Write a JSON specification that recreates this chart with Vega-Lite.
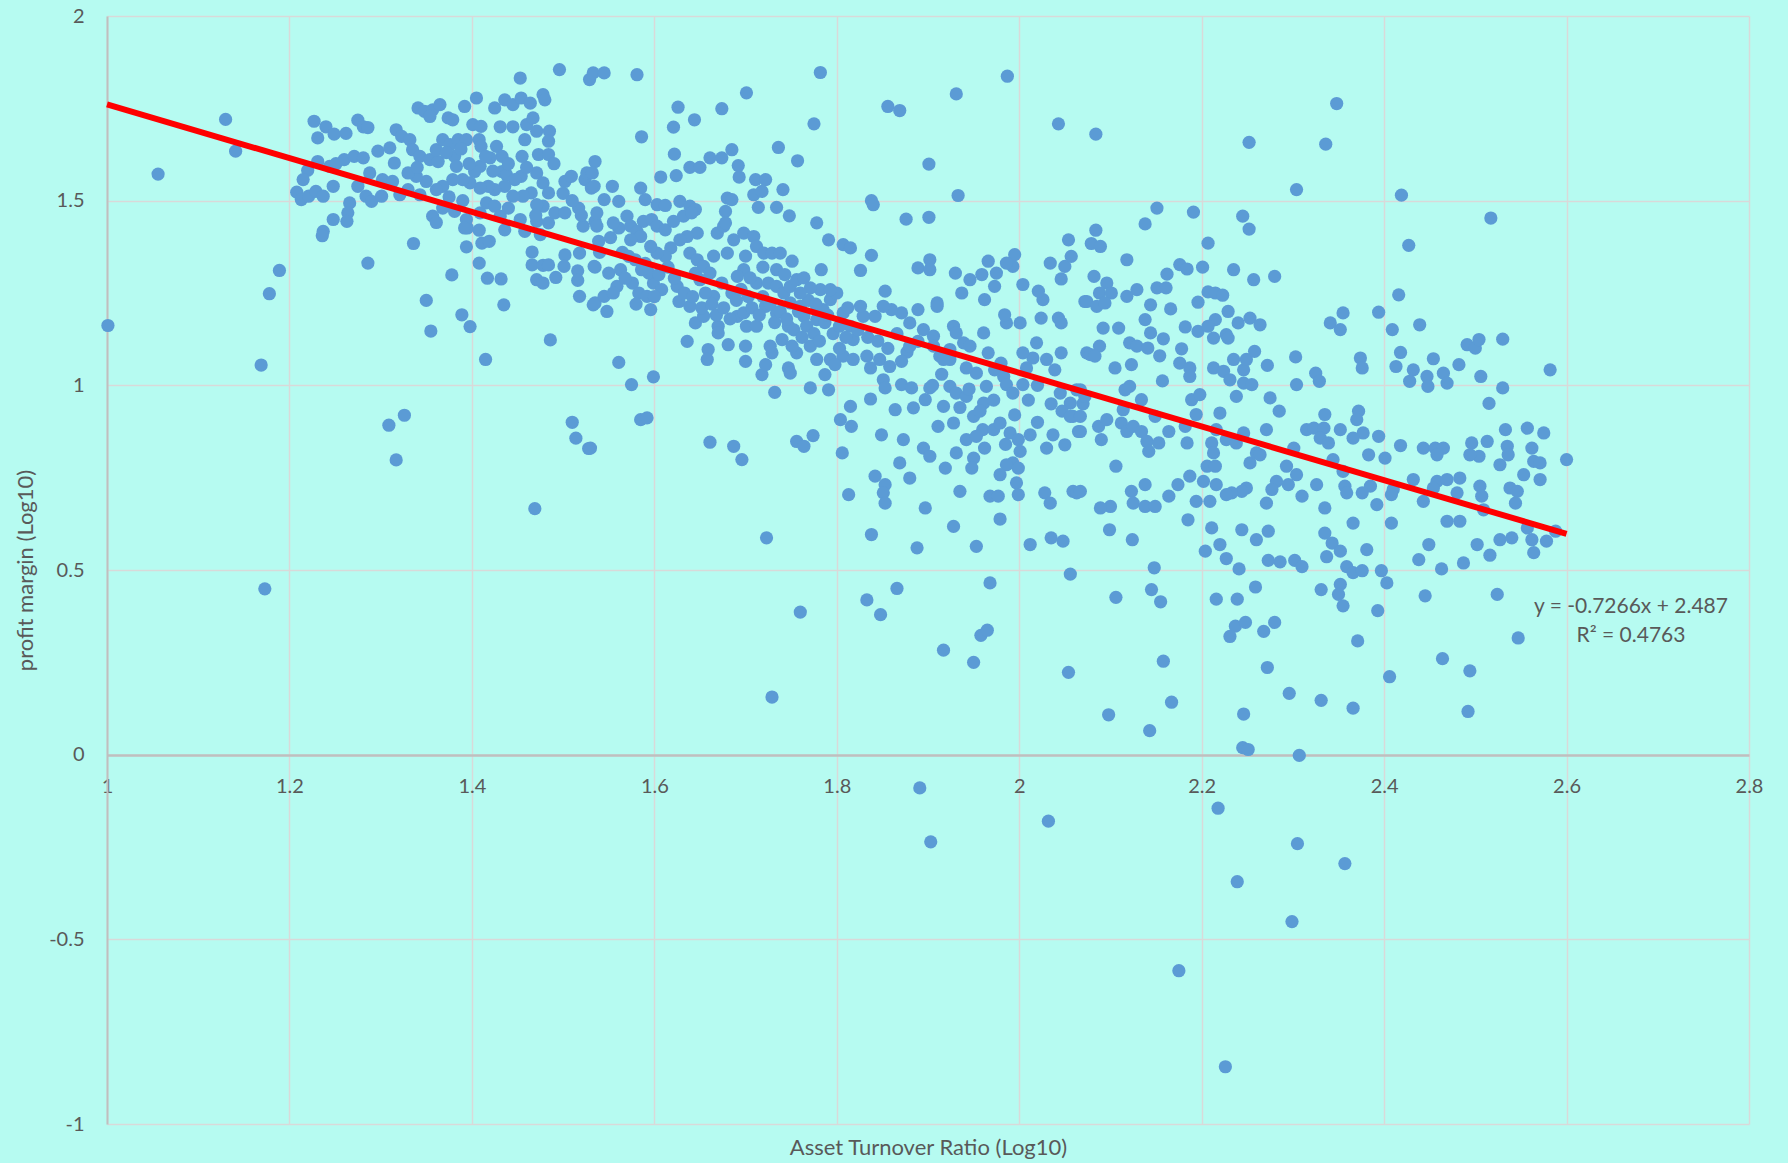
{
"$schema": "https://vega.github.io/schema/vega-lite/v6.json",
"width": 1642, "height": 1108,
"autosize": {"type": "none"},
"padding": {"left": 107, "top": 16, "right": 39, "bottom": 39},
"background": "#B6FBF1",
"config": {"view": {"stroke": null}, "font": "Lato"},
"datasets": {
"trend": [{"x": 1, "y": 1.7604}, {"x": 2.6, "y": 0.59784}],
"eq": [{"label": "y = -0.7266x + 2.487", "x": 2.6706, "y": 0.384}, {"label": "R² = 0.4763", "x": 2.6706, "y": 0.305}],
"points": [
{"x":1.001,"y":1.162},{"x":1.056,"y":1.572},{"x":1.130,"y":1.72},{"x":1.141,"y":1.634},{"x":1.189,"y":1.311},{"x":1.178,"y":1.248},{"x":1.169,"y":1.055},{"x":1.173,"y":0.449},{"x":1.309,"y":0.892},{"x":1.326,"y":0.919},{"x":1.317,"y":0.798},{"x":1.469,"y":0.666},{"x":1.510,"y":0.90},{"x":1.514,"y":0.857},{"x":1.528,"y":0.829},{"x":1.286,"y":1.331},{"x":1.336,"y":1.384},{"x":1.378,"y":1.299},{"x":1.350,"y":1.23},{"x":1.355,"y":1.147},{"x":1.389,"y":1.191},{"x":1.398,"y":1.159},{"x":1.415,"y":1.07},{"x":1.435,"y":1.218},{"x":1.486,"y":1.123},{"x":1.394,"y":1.375},{"x":1.417,"y":1.29},{"x":1.432,"y":1.288},{"x":1.408,"y":1.331},{"x":1.411,"y":1.385},{"x":1.419,"y":1.39},{"x":1.395,"y":1.426},{"x":1.408,"y":1.42},{"x":1.466,"y":1.361},{"x":1.466,"y":1.326},{"x":1.478,"y":1.325},{"x":1.484,"y":1.326},{"x":1.471,"y":1.286},{"x":1.478,"y":1.277},{"x":1.492,"y":1.292},{"x":1.502,"y":1.353},{"x":1.501,"y":1.322},{"x":1.516,"y":1.31},{"x":1.516,"y":1.284},{"x":1.518,"y":1.241},{"x":1.533,"y":1.218},{"x":1.518,"y":1.358},{"x":1.535,"y":1.32},
{"x":1.227,"y":1.715},{"x":1.240,"y":1.70},{"x":1.249,"y":1.68},{"x":1.262,"y":1.682},{"x":1.275,"y":1.718},{"x":1.281,"y":1.70},{"x":1.286,"y":1.698},{"x":1.231,"y":1.67},{"x":1.231,"y":1.606},{"x":1.220,"y":1.582},{"x":1.215,"y":1.557},{"x":1.208,"y":1.523},{"x":1.213,"y":1.503},{"x":1.221,"y":1.512},{"x":1.229,"y":1.525},{"x":1.237,"y":1.512},{"x":1.248,"y":1.539},{"x":1.244,"y":1.593},{"x":1.251,"y":1.60},{"x":1.260,"y":1.611},{"x":1.271,"y":1.62},{"x":1.281,"y":1.616},{"x":1.288,"y":1.575},{"x":1.275,"y":1.539},{"x":1.284,"y":1.512},{"x":1.290,"y":1.498},{"x":1.301,"y":1.512},{"x":1.302,"y":1.557},{"x":1.313,"y":1.552},{"x":1.321,"y":1.516},{"x":1.266,"y":1.494},{"x":1.264,"y":1.467},{"x":1.248,"y":1.449},{"x":1.263,"y":1.444},{"x":1.237,"y":1.417},{"x":1.236,"y":1.405},
{"x":1.297,"y":1.634},{"x":1.310,"y":1.643},{"x":1.317,"y":1.692},{"x":1.323,"y":1.674},{"x":1.315,"y":1.602},{"x":1.332,"y":1.665},{"x":1.341,"y":1.751},{"x":1.348,"y":1.742},{"x":1.357,"y":1.746},{"x":1.365,"y":1.76},{"x":1.374,"y":1.724},{"x":1.379,"y":1.719},{"x":1.354,"y":1.728},{"x":1.335,"y":1.638},{"x":1.343,"y":1.62},{"x":1.354,"y":1.611},{"x":1.363,"y":1.606},{"x":1.361,"y":1.638},{"x":1.368,"y":1.665},{"x":1.376,"y":1.652},{"x":1.385,"y":1.665},{"x":1.394,"y":1.665},{"x":1.381,"y":1.62},{"x":1.383,"y":1.593},{"x":1.392,"y":1.755},{"x":1.405,"y":1.778},{"x":1.401,"y":1.706},{"x":1.410,"y":1.701},{"x":1.408,"y":1.665},{"x":1.410,"y":1.647},{"x":1.425,"y":1.751},{"x":1.436,"y":1.773},{"x":1.445,"y":1.76},{"x":1.453,"y":1.832},{"x":1.454,"y":1.778},{"x":1.464,"y":1.764},{"x":1.478,"y":1.787},{"x":1.480,"y":1.773},{"x":1.496,"y":1.855},{"x":1.529,"y":1.828},{"x":1.533,"y":1.846},{"x":1.431,"y":1.70},{"x":1.445,"y":1.70},{"x":1.460,"y":1.706},{"x":1.467,"y":1.724},{"x":1.471,"y":1.688},{"x":1.458,"y":1.665},{"x":1.485,"y":1.688},{"x":1.484,"y":1.661},{"x":1.473,"y":1.625},{"x":1.484,"y":1.625},{"x":1.427,"y":1.647},{"x":1.433,"y":1.62},{"x":1.420,"y":1.616},{"x":1.409,"y":1.593},{"x":1.403,"y":1.579},{"x":1.433,"y":1.579},{"x":1.438,"y":1.57},{"x":1.454,"y":1.566},{"x":1.447,"y":1.557},{"x":1.471,"y":1.575},{"x":1.478,"y":1.548},{"x":1.484,"y":1.521},{"x":1.465,"y":1.521},{"x":1.456,"y":1.512},{"x":1.445,"y":1.512},{"x":1.436,"y":1.539},{"x":1.425,"y":1.53},{"x":1.418,"y":1.539},{"x":1.409,"y":1.534},{"x":1.398,"y":1.548},{"x":1.390,"y":1.557},{"x":1.379,"y":1.557},{"x":1.368,"y":1.539},{"x":1.361,"y":1.53},{"x":1.350,"y":1.552},{"x":1.339,"y":1.566},{"x":1.330,"y":1.575},{"x":1.343,"y":1.516},{"x":1.368,"y":1.48},{"x":1.381,"y":1.471},{"x":1.394,"y":1.449},{"x":1.392,"y":1.426},{"x":1.409,"y":1.467},{"x":1.416,"y":1.494},{"x":1.425,"y":1.485},{"x":1.431,"y":1.458},{"x":1.436,"y":1.421},{"x":1.453,"y":1.449},{"x":1.458,"y":1.417},{"x":1.471,"y":1.444},{"x":1.475,"y":1.408},{"x":1.484,"y":1.44},{"x":1.478,"y":1.485},{"x":1.471,"y":1.489},{"x":1.491,"y":1.467},{"x":1.502,"y":1.467},{"x":1.517,"y":1.48},{"x":1.522,"y":1.431},{"x":1.535,"y":1.444},{"x":1.502,"y":1.552},{"x":1.509,"y":1.566},{"x":1.524,"y":1.557},{"x":1.526,"y":1.575},{"x":1.531,"y":1.534},{"x":1.535,"y":1.606},{"x":1.357,"y":1.458},{"x":1.361,"y":1.441},
{"x":1.372,"y":1.63},{"x":1.388,"y":1.64},{"x":1.397,"y":1.60},{"x":1.415,"y":1.62},{"x":1.423,"y":1.58},{"x":1.44,"y":1.60},{"x":1.46,"y":1.59},{"x":1.455,"y":1.62},{"x":1.49,"y":1.60},{"x":1.50,"y":1.52},{"x":1.51,"y":1.50},{"x":1.52,"y":1.46},{"x":1.34,"y":1.59},{"x":1.33,"y":1.53},{"x":1.375,"y":1.51},{"x":1.39,"y":1.50},{"x":1.44,"y":1.48},{"x":1.47,"y":1.46},
{"x":1.545,"y":1.846},{"x":1.581,"y":1.841},{"x":1.626,"y":1.753},{"x":1.621,"y":1.699},{"x":1.644,"y":1.719},{"x":1.674,"y":1.749},{"x":1.701,"y":1.792},{"x":1.782,"y":1.847},{"x":1.586,"y":1.673},{"x":1.622,"y":1.626},{"x":1.624,"y":1.568},{"x":1.607,"y":1.564},{"x":1.639,"y":1.59},{"x":1.650,"y":1.59},{"x":1.661,"y":1.616},{"x":1.674,"y":1.616},{"x":1.685,"y":1.638},{"x":1.692,"y":1.595},{"x":1.693,"y":1.564},{"x":1.711,"y":1.557},{"x":1.722,"y":1.557},{"x":1.709,"y":1.516},{"x":1.718,"y":1.525},{"x":1.714,"y":1.482},{"x":1.736,"y":1.644},{"x":1.757,"y":1.608},{"x":1.775,"y":1.708},{"x":1.741,"y":1.53},{"x":1.734,"y":1.482},{"x":1.748,"y":1.459},{"x":1.680,"y":1.507},{"x":1.685,"y":1.503},{"x":1.678,"y":1.471},{"x":1.585,"y":1.534},{"x":1.590,"y":1.503},{"x":1.603,"y":1.489},{"x":1.612,"y":1.487},{"x":1.628,"y":1.498},{"x":1.639,"y":1.485},{"x":1.645,"y":1.476},{"x":1.554,"y":1.539},{"x":1.545,"y":1.503},{"x":1.561,"y":1.498},{"x":1.532,"y":1.575},{"x":1.534,"y":1.539},{"x":1.856,"y":1.755},{"x":1.869,"y":1.744},{"x":1.931,"y":1.789},{"x":1.987,"y":1.837},{"x":1.901,"y":1.599},{"x":2.043,"y":1.708},{"x":1.933,"y":1.514},{"x":1.838,"y":1.5},{"x":1.840,"y":1.489},{"x":1.876,"y":1.45},{"x":1.901,"y":1.455},{"x":1.778,"y":1.44},{"x":1.791,"y":1.394},{"x":1.807,"y":1.381},{"x":1.815,"y":1.372},{"x":1.838,"y":1.352},{"x":1.826,"y":1.311},{"x":1.783,"y":1.313},
{"x":1.537,"y":1.467},{"x":1.537,"y":1.431},{"x":1.539,"y":1.39},{"x":1.534,"y":1.322},{"x":1.535,"y":1.223},{"x":1.548,"y":1.2},{"x":1.550,"y":1.304},{"x":1.545,"y":1.241},{"x":1.561,"y":1.426},{"x":1.570,"y":1.458},{"x":1.574,"y":1.431},{"x":1.581,"y":1.417},{"x":1.588,"y":1.444},{"x":1.597,"y":1.449},{"x":1.603,"y":1.431},{"x":1.612,"y":1.421},{"x":1.621,"y":1.444},{"x":1.632,"y":1.458},{"x":1.641,"y":1.467},{"x":1.647,"y":1.412},{"x":1.636,"y":1.403},{"x":1.628,"y":1.394},{"x":1.618,"y":1.372},{"x":1.612,"y":1.349},{"x":1.603,"y":1.358},{"x":1.596,"y":1.376},{"x":1.585,"y":1.403},{"x":1.574,"y":1.394},{"x":1.572,"y":1.349},{"x":1.579,"y":1.34},{"x":1.563,"y":1.313},{"x":1.559,"y":1.268},{"x":1.555,"y":1.25},{"x":1.576,"y":1.277},{"x":1.583,"y":1.25},{"x":1.592,"y":1.241},{"x":1.596,"y":1.205},{"x":1.599,"y":1.277},{"x":1.608,"y":1.259},{"x":1.594,"y":1.304},{"x":1.586,"y":1.313},{"x":1.625,"y":1.268},{"x":1.627,"y":1.227},{"x":1.639,"y":1.214},{"x":1.645,"y":1.169},{"x":1.636,"y":1.119},{"x":1.654,"y":1.187},{"x":1.659,"y":1.097},{"x":1.670,"y":1.16},{"x":1.658,"y":1.07},{"x":1.670,"y":1.142},{"x":1.681,"y":1.11},{"x":1.691,"y":1.187},{"x":1.698,"y":1.196},{"x":1.701,"y":1.16},{"x":1.712,"y":1.16},{"x":1.700,"y":1.106},{"x":1.700,"y":1.065},{"x":1.722,"y":1.214},{"x":1.718,"y":1.029},{"x":1.722,"y":1.056},{"x":1.729,"y":1.088},{"x":1.732,"y":0.981},{"x":1.747,"y":1.047},{"x":1.749,"y":1.033},{"x":1.740,"y":1.124},{"x":1.747,"y":1.16},{"x":1.734,"y":1.196},{"x":1.749,"y":1.223},{"x":1.760,"y":1.214},{"x":1.764,"y":1.187},{"x":1.767,"y":1.16},{"x":1.778,"y":1.178},{"x":1.785,"y":1.205},{"x":1.793,"y":1.232},{"x":1.800,"y":1.25},{"x":1.807,"y":1.196},{"x":1.815,"y":1.16},{"x":1.818,"y":1.124},{"x":1.771,"y":1.106},{"x":1.778,"y":1.07},{"x":1.793,"y":1.07},{"x":1.807,"y":1.079},{"x":1.818,"y":1.07},{"x":1.787,"y":1.029},{"x":1.791,"y":0.988},{"x":1.798,"y":1.056},{"x":1.771,"y":0.993},{"x":1.756,"y":1.088},{"x":1.751,"y":1.106},{"x":1.727,"y":1.106},{"x":1.712,"y":1.277},{"x":1.725,"y":1.277},{"x":1.734,"y":1.268},{"x":1.742,"y":1.25},{"x":1.749,"y":1.268},{"x":1.756,"y":1.286},{"x":1.764,"y":1.291},{"x":1.782,"y":1.259},{"x":1.793,"y":1.259},{"x":1.771,"y":1.264},{"x":1.685,"y":1.25},{"x":1.674,"y":1.277},{"x":1.665,"y":1.241},{"x":1.656,"y":1.25},{"x":1.650,"y":1.286},{"x":1.645,"y":1.304},{"x":1.639,"y":1.358},{"x":1.647,"y":1.34},{"x":1.654,"y":1.322},{"x":1.661,"y":1.304},{"x":1.680,"y":1.358},{"x":1.687,"y":1.394},{"x":1.698,"y":1.412},{"x":1.709,"y":1.403},{"x":1.712,"y":1.376},{"x":1.720,"y":1.358},{"x":1.729,"y":1.358},{"x":1.738,"y":1.358},{"x":1.751,"y":1.336},{"x":1.734,"y":1.313},{"x":1.698,"y":1.313},{"x":1.705,"y":1.291},{"x":1.691,"y":1.295},{"x":1.669,"y":1.412},{"x":1.676,"y":1.431},{"x":1.678,"y":1.44},
{"x":1.605,"y":1.30},{"x":1.615,"y":1.32},{"x":1.622,"y":1.29},{"x":1.633,"y":1.25},{"x":1.642,"y":1.24},{"x":1.652,"y":1.21},{"x":1.663,"y":1.22},{"x":1.668,"y":1.19},{"x":1.676,"y":1.21},{"x":1.683,"y":1.18},{"x":1.690,"y":1.23},{"x":1.695,"y":1.26},{"x":1.703,"y":1.24},{"x":1.707,"y":1.21},{"x":1.715,"y":1.19},{"x":1.719,"y":1.24},{"x":1.727,"y":1.22},{"x":1.732,"y":1.17},{"x":1.738,"y":1.20},{"x":1.745,"y":1.18},{"x":1.753,"y":1.15},{"x":1.758,"y":1.20},{"x":1.762,"y":1.13},{"x":1.769,"y":1.23},{"x":1.775,"y":1.14},{"x":1.781,"y":1.12},{"x":1.787,"y":1.17},{"x":1.796,"y":1.14},{"x":1.803,"y":1.10},{"x":1.810,"y":1.13},{"x":1.665,"y":1.35},{"x":1.700,"y":1.35},{"x":1.719,"y":1.32},{"x":1.743,"y":1.30},{"x":1.760,"y":1.25},{"x":1.777,"y":1.22},{"x":1.790,"y":1.19},{"x":1.803,"y":1.16},{"x":1.812,"y":1.21},{"x":1.823,"y":1.15},{"x":1.834,"y":1.13},{"x":1.845,"y":1.12},{"x":1.856,"y":1.10},{"x":1.866,"y":1.14},{"x":1.877,"y":1.09},
{"x":1.54,"y":1.36},{"x":1.552,"y":1.40},{"x":1.565,"y":1.36},{"x":1.568,"y":1.29},{"x":1.58,"y":1.22},{"x":1.59,"y":1.33},{"x":1.60,"y":1.24},{"x":1.555,"y":1.44},
{"x":1.561,"y":1.062},{"x":1.575,"y":1.002},{"x":1.599,"y":1.023},{"x":1.585,"y":0.907},{"x":1.592,"y":0.912},{"x":1.530,"y":0.830},{"x":1.661,"y":0.846},{"x":1.687,"y":0.835},{"x":1.696,"y":0.799},{"x":1.723,"y":0.587},{"x":1.756,"y":0.848},{"x":1.764,"y":0.835},{"x":1.774,"y":0.864},{"x":1.806,"y":0.817},
{"x":1.815,"y":0.943},{"x":1.804,"y":0.907},{"x":1.816,"y":0.889},{"x":1.837,"y":0.963},{"x":1.851,"y":1.015},{"x":1.853,"y":0.993},{"x":1.864,"y":0.934},{"x":1.871,"y":1.002},{"x":1.882,"y":0.993},{"x":1.884,"y":0.939},{"x":1.897,"y":0.961},{"x":1.902,"y":0.993},{"x":1.911,"y":0.889},{"x":1.917,"y":0.943},{"x":1.924,"y":0.997},{"x":1.928,"y":0.898},{"x":1.931,"y":0.979},{"x":1.942,"y":0.97},{"x":1.950,"y":0.916},{"x":1.961,"y":0.952},{"x":1.964,"y":0.997},{"x":1.953,"y":1.033},{"x":1.942,"y":1.047},{"x":1.939,"y":1.115},{"x":1.928,"y":1.16},{"x":1.924,"y":1.07},{"x":1.913,"y":1.079},{"x":1.906,"y":1.133},{"x":1.895,"y":1.151},{"x":1.889,"y":1.205},{"x":1.880,"y":1.169},{"x":1.871,"y":1.196},{"x":1.860,"y":1.205},{"x":1.851,"y":1.214},{"x":1.842,"y":1.187},{"x":1.829,"y":1.187},{"x":1.826,"y":1.214},{"x":1.833,"y":1.079},{"x":1.837,"y":1.047},{"x":1.847,"y":1.07},{"x":1.858,"y":1.051},{"x":1.871,"y":1.065},{"x":1.880,"y":1.106},{"x":1.889,"y":1.119},{"x":1.906,"y":1.106},{"x":1.917,"y":1.07},{"x":1.924,"y":1.097},{"x":1.931,"y":1.142},{"x":1.946,"y":1.106},{"x":1.961,"y":1.142},{"x":1.966,"y":1.088},{"x":1.973,"y":1.042},{"x":1.983,"y":1.024},{"x":1.986,"y":1.002},{"x":1.993,"y":0.979},{"x":2.004,"y":1.002},{"x":2.008,"y":1.047},{"x":2.015,"y":1.074},{"x":2.019,"y":1.115},{"x":2.030,"y":1.07},{"x":2.039,"y":1.042},{"x":2.045,"y":0.979},{"x":2.056,"y":0.952},{"x":2.059,"y":0.916},{"x":2.063,"y":0.988},{"x":2.046,"y":1.088},{"x":2.074,"y":1.088},{"x":2.004,"y":1.088},{"x":2.001,"y":1.169},{"x":1.986,"y":1.169},{"x":1.984,"y":1.191},{"x":2.024,"y":1.182},{"x":2.026,"y":1.232},{"x":2.021,"y":1.255},{"x":2.043,"y":1.182},{"x":2.046,"y":1.169},{"x":2.004,"y":1.273},{"x":1.993,"y":1.322},{"x":1.995,"y":1.354},{"x":1.986,"y":1.331},{"x":1.975,"y":1.304},{"x":1.973,"y":1.268},{"x":1.966,"y":1.336},{"x":1.959,"y":1.30},{"x":1.946,"y":1.286},{"x":1.937,"y":1.25},{"x":1.930,"y":1.304},{"x":1.962,"y":1.232},{"x":1.910,"y":1.223},{"x":1.910,"y":1.214},{"x":1.889,"y":1.318},{"x":1.902,"y":1.34},{"x":1.902,"y":1.313},{"x":2.034,"y":1.331},{"x":2.050,"y":1.322},{"x":2.054,"y":1.394},{"x":2.057,"y":1.349},{"x":2.046,"y":1.288},{"x":2.072,"y":1.227},{"x":1.853,"y":1.255},{"x":1.895,"y":0.83},{"x":1.902,"y":0.808},
{"x":1.905,"y":1.00},{"x":1.915,"y":1.03},{"x":1.935,"y":0.94},{"x":1.945,"y":0.99},{"x":1.957,"y":0.93},{"x":1.972,"y":0.96},{"x":1.98,"y":1.06},{"x":1.995,"y":0.92},{"x":2.01,"y":0.96},{"x":2.02,"y":1.00},{"x":2.035,"y":0.95},{"x":2.047,"y":0.93},{"x":1.96,"y":0.88},{"x":1.985,"y":0.84},{"x":2.02,"y":0.90},{"x":2.07,"y":0.95},
{"x":1.942,"y":0.853},{"x":1.953,"y":0.862},{"x":1.962,"y":0.83},{"x":1.972,"y":0.88},{"x":1.979,"y":0.898},{"x":1.990,"y":0.871},{"x":1.999,"y":0.853},{"x":2.012,"y":0.866},{"x":2.001,"y":0.821},{"x":1.993,"y":0.79},{"x":1.986,"y":0.785},{"x":1.979,"y":0.758},{"x":1.999,"y":0.776},{"x":1.997,"y":0.736},{"x":1.999,"y":0.704},{"x":1.950,"y":0.803},{"x":1.948,"y":0.776},{"x":1.919,"y":0.776},{"x":1.931,"y":0.817},{"x":1.935,"y":0.713},{"x":1.968,"y":0.7},{"x":1.977,"y":0.7},{"x":1.979,"y":0.638},{"x":1.928,"y":0.618},{"x":1.953,"y":0.564},{"x":2.012,"y":0.569},{"x":2.035,"y":0.587},{"x":2.048,"y":0.578},{"x":2.028,"y":0.709},{"x":2.034,"y":0.681},{"x":2.059,"y":0.713},{"x":2.063,"y":0.709},{"x":2.037,"y":0.866},{"x":2.050,"y":0.839},{"x":2.030,"y":0.83},{"x":2.065,"y":0.875},{"x":2.056,"y":0.916},{"x":1.849,"y":0.866},{"x":1.873,"y":0.853},{"x":1.869,"y":0.79},{"x":1.880,"y":0.749},{"x":1.842,"y":0.754},{"x":1.853,"y":0.731},{"x":1.851,"y":0.709},{"x":1.853,"y":0.681},{"x":1.813,"y":0.704},{"x":1.897,"y":0.668},{"x":1.838,"y":0.596},{"x":1.888,"y":0.56},
{"x":2.084,"y":1.68},{"x":2.252,"y":1.658},{"x":2.336,"y":1.653},{"x":2.348,"y":1.763},{"x":2.304,"y":1.53},{"x":2.419,"y":1.515},{"x":2.517,"y":1.453},{"x":2.427,"y":1.379},{"x":2.151,"y":1.48},{"x":2.191,"y":1.469},{"x":2.138,"y":1.437},{"x":2.245,"y":1.458},{"x":2.252,"y":1.423},{"x":2.207,"y":1.385},{"x":2.084,"y":1.42},{"x":2.079,"y":1.384},{"x":2.089,"y":1.376},{"x":2.118,"y":1.34},{"x":2.176,"y":1.327},{"x":2.184,"y":1.315},{"x":2.201,"y":1.32},{"x":2.235,"y":1.313},{"x":2.257,"y":1.286},{"x":2.280,"y":1.295},{"x":2.162,"y":1.301},{"x":2.082,"y":1.295},{"x":2.096,"y":1.277},{"x":2.088,"y":1.25},{"x":2.101,"y":1.25},{"x":2.074,"y":1.227},{"x":2.085,"y":1.214},{"x":2.094,"y":1.223},{"x":2.118,"y":1.241},{"x":2.129,"y":1.259},{"x":2.151,"y":1.264},{"x":2.161,"y":1.264},{"x":2.144,"y":1.218},{"x":2.166,"y":1.207},{"x":2.138,"y":1.178},{"x":2.144,"y":1.142},{"x":2.196,"y":1.225},{"x":2.207,"y":1.253},{"x":2.215,"y":1.25},{"x":2.223,"y":1.244},{"x":2.229,"y":1.2},{"x":2.215,"y":1.178},{"x":2.240,"y":1.169},{"x":2.253,"y":1.182},{"x":2.264,"y":1.164},{"x":2.182,"y":1.158},{"x":2.196,"y":1.146},{"x":2.207,"y":1.16},{"x":2.213,"y":1.128},{"x":2.227,"y":1.137},{"x":2.229,"y":1.128},{"x":2.092,"y":1.155},{"x":2.109,"y":1.155},{"x":2.121,"y":1.115},{"x":2.129,"y":1.106},{"x":2.141,"y":1.101},{"x":2.158,"y":1.126},{"x":2.088,"y":1.106},{"x":2.078,"y":1.083},{"x":2.083,"y":1.079},{"x":2.105,"y":1.047},{"x":2.123,"y":1.056},{"x":2.154,"y":1.08},{"x":2.178,"y":1.099},{"x":2.176,"y":1.06},{"x":2.187,"y":1.047},{"x":2.187,"y":1.024},{"x":2.213,"y":1.047},{"x":2.224,"y":1.038},{"x":2.231,"y":1.015},{"x":2.235,"y":1.07},{"x":2.246,"y":1.042},{"x":2.249,"y":1.07},{"x":2.258,"y":1.092},{"x":2.272,"y":1.054},{"x":2.246,"y":1.006},{"x":2.255,"y":1.002},{"x":2.157,"y":1.012},{"x":2.121,"y":0.997},{"x":2.116,"y":0.988},{"x":2.303,"y":1.077},{"x":2.304,"y":1.002},{"x":2.325,"y":1.033},{"x":2.329,"y":1.011},{"x":2.355,"y":1.196},{"x":2.341,"y":1.169},{"x":2.352,"y":1.151},{"x":2.394,"y":1.198},{"x":2.409,"y":1.151},{"x":2.416,"y":1.245},{"x":2.439,"y":1.164},{"x":2.418,"y":1.089},{"x":2.374,"y":1.074},{"x":2.376,"y":1.047},{"x":2.413,"y":1.051},{"x":2.432,"y":1.042},{"x":2.428,"y":1.011},{"x":2.447,"y":1.024},{"x":2.448,"y":0.997},{"x":2.454,"y":1.072},{"x":2.465,"y":1.033},{"x":2.469,"y":1.006},{"x":2.482,"y":1.056},{"x":2.491,"y":1.11},{"x":2.500,"y":1.101},{"x":2.504,"y":1.124},{"x":2.530,"y":1.125},{"x":2.506,"y":1.024},{"x":2.530,"y":0.993},{"x":2.582,"y":1.042},{"x":2.515,"y":0.951},
{"x":2.067,"y":0.988},{"x":2.072,"y":0.97},{"x":2.067,"y":0.916},{"x":2.067,"y":0.875},{"x":2.087,"y":0.889},{"x":2.096,"y":0.907},{"x":2.090,"y":0.853},{"x":2.114,"y":0.934},{"x":2.112,"y":0.898},{"x":2.118,"y":0.875},{"x":2.125,"y":0.889},{"x":2.134,"y":0.961},{"x":2.134,"y":0.875},{"x":2.140,"y":0.848},{"x":2.142,"y":0.821},{"x":2.149,"y":0.916},{"x":2.153,"y":0.844},{"x":2.164,"y":0.875},{"x":2.184,"y":0.844},{"x":2.189,"y":0.961},{"x":2.198,"y":0.975},{"x":2.194,"y":0.921},{"x":2.182,"y":0.889},{"x":2.220,"y":0.925},{"x":2.216,"y":0.88},{"x":2.211,"y":0.844},{"x":2.213,"y":0.817},{"x":2.206,"y":0.781},{"x":2.215,"y":0.781},{"x":2.227,"y":0.853},{"x":2.238,"y":0.844},{"x":2.238,"y":0.97},{"x":2.246,"y":0.871},{"x":2.253,"y":0.79},{"x":2.260,"y":0.817},{"x":2.271,"y":0.88},{"x":2.275,"y":0.966},{"x":2.285,"y":0.93},{"x":2.301,"y":0.83},{"x":2.315,"y":0.88},{"x":2.323,"y":0.884},{"x":2.334,"y":0.884},{"x":2.330,"y":0.857},{"x":2.339,"y":0.844},{"x":2.335,"y":0.921},{"x":2.352,"y":0.88},{"x":2.372,"y":0.93},{"x":2.370,"y":0.907},{"x":2.377,"y":0.871},{"x":2.366,"y":0.857},{"x":2.394,"y":0.862},{"x":2.383,"y":0.812},{"x":2.401,"y":0.803},{"x":2.418,"y":0.837},{"x":2.443,"y":0.83},{"x":2.456,"y":0.83},{"x":2.465,"y":0.83},{"x":2.458,"y":0.812},{"x":2.496,"y":0.844},{"x":2.504,"y":0.808},{"x":2.494,"y":0.812},{"x":2.513,"y":0.848},{"x":2.533,"y":0.88},{"x":2.535,"y":0.835},{"x":2.536,"y":0.812},{"x":2.557,"y":0.884},{"x":2.575,"y":0.871},{"x":2.562,"y":0.83},{"x":2.564,"y":0.794},{"x":2.571,"y":0.79},{"x":2.600,"y":0.799},{"x":2.527,"y":0.785},{"x":2.553,"y":0.758},{"x":2.571,"y":0.745},{"x":2.432,"y":0.745},{"x":2.458,"y":0.740},{"x":2.469,"y":0.745},{"x":2.483,"y":0.749},{"x":2.454,"y":0.722},{"x":2.480,"y":0.709},{"x":2.505,"y":0.727},{"x":2.507,"y":0.70},{"x":2.509,"y":0.663},{"x":2.538,"y":0.722},{"x":2.546,"y":0.713},{"x":2.544,"y":0.681},{"x":2.410,"y":0.718},{"x":2.408,"y":0.704},{"x":2.385,"y":0.727},{"x":2.376,"y":0.709},{"x":2.357,"y":0.727},{"x":2.359,"y":0.709},{"x":2.355,"y":0.767},{"x":2.344,"y":0.799},{"x":2.326,"y":0.731},{"x":2.335,"y":0.668},{"x":2.310,"y":0.70},{"x":2.304,"y":0.758},{"x":2.293,"y":0.781},{"x":2.282,"y":0.740},{"x":2.277,"y":0.718},{"x":2.271,"y":0.681},{"x":2.295,"y":0.731},{"x":2.264,"y":0.812},{"x":2.249,"y":0.722},{"x":2.244,"y":0.713},{"x":2.233,"y":0.709},{"x":2.227,"y":0.704},{"x":2.209,"y":0.686},{"x":2.194,"y":0.686},{"x":2.187,"y":0.754},{"x":2.174,"y":0.731},{"x":2.202,"y":0.740},{"x":2.216,"y":0.731},{"x":2.164,"y":0.70},{"x":2.138,"y":0.731},{"x":2.123,"y":0.713},{"x":2.125,"y":0.681},{"x":2.138,"y":0.672},{"x":2.149,"y":0.672},{"x":2.100,"y":0.672},{"x":2.089,"y":0.668},{"x":2.067,"y":0.713},{"x":2.106,"y":0.781},{"x":2.392,"y":0.677},{"x":2.443,"y":0.686},{"x":2.469,"y":0.632},{"x":2.483,"y":0.632},{"x":2.408,"y":0.627},{"x":2.366,"y":0.627},{"x":2.185,"y":0.636},{"x":2.211,"y":0.614},{"x":2.244,"y":0.609},{"x":2.273,"y":0.605},{"x":2.260,"y":0.582},{"x":2.335,"y":0.60},{"x":2.343,"y":0.573},{"x":2.352,"y":0.551},{"x":2.381,"y":0.555},{"x":2.449,"y":0.569},{"x":2.502,"y":0.569},{"x":2.527,"y":0.582},{"x":2.540,"y":0.587},{"x":2.562,"y":0.582},{"x":2.578,"y":0.578},{"x":2.588,"y":0.605},{"x":2.557,"y":0.614},{"x":2.099,"y":0.609},{"x":2.124,"y":0.582},{"x":2.220,"y":0.569},{"x":2.204,"y":0.551},
{"x":2.227,"y":0.531},{"x":2.241,"y":0.503},{"x":2.273,"y":0.526},{"x":2.286,"y":0.522},{"x":2.302,"y":0.526},{"x":2.310,"y":0.509},{"x":2.337,"y":0.536},{"x":2.359,"y":0.509},{"x":2.366,"y":0.493},{"x":2.376,"y":0.498},{"x":2.397,"y":0.498},{"x":2.403,"y":0.465},{"x":2.438,"y":0.528},{"x":2.463,"y":0.503},{"x":2.487,"y":0.519},{"x":2.516,"y":0.54},{"x":2.564,"y":0.547},
{"x":2.148,"y":0.506},{"x":2.106,"y":0.426},{"x":2.145,"y":0.447},{"x":2.155,"y":0.414},{"x":2.158,"y":0.253},{"x":2.167,"y":0.142},{"x":2.098,"y":0.108},{"x":2.143,"y":0.065},{"x":2.216,"y":0.421},{"x":2.239,"y":0.421},{"x":2.259,"y":0.454},{"x":2.237,"y":0.348},{"x":2.248,"y":0.358},{"x":2.231,"y":0.32},{"x":2.268,"y":0.334},{"x":2.280,"y":0.358},{"x":2.272,"y":0.236},{"x":2.296,"y":0.166},{"x":2.331,"y":0.147},{"x":2.366,"y":0.126},{"x":2.246,"y":0.11},{"x":2.245,"y":0.019},{"x":2.251,"y":0.014},{"x":2.307,"y":-0.002},{"x":2.331,"y":0.447},{"x":2.352,"y":0.461},{"x":2.350,"y":0.434},{"x":2.355,"y":0.403},{"x":2.393,"y":0.39},{"x":2.371,"y":0.308},{"x":2.406,"y":0.211},{"x":2.445,"y":0.43},{"x":2.464,"y":0.26},{"x":2.494,"y":0.227},{"x":2.492,"y":0.117},{"x":2.524,"y":0.434},{"x":2.547,"y":0.316},
{"x":2.218,"y":-0.145},{"x":2.305,"y":-0.241},{"x":2.357,"y":-0.295},{"x":2.239,"y":-0.344},{"x":2.299,"y":-0.452},{"x":2.175,"y":-0.585},{"x":2.226,"y":-0.845},
{"x":2.056,"y":0.489},{"x":1.968,"y":0.465},{"x":1.866,"y":0.45},{"x":1.833,"y":0.419},{"x":1.848,"y":0.379},{"x":1.760,"y":0.386},{"x":1.729,"y":0.156},{"x":1.917,"y":0.283},{"x":1.950,"y":0.25},{"x":1.958,"y":0.323},{"x":1.965,"y":0.337},{"x":2.054,"y":0.223},{"x":1.891,"y":-0.09},{"x":2.032,"y":-0.18},{"x":1.903,"y":-0.236}
]
},
"layer": [
{
"data": {"name": "points"},
"mark": {"type": "circle", "size": 175, "color": "#5B9BD5", "opacity": 1},
"encoding": {
"x": {"field": "x", "type": "quantitative",
 "scale": {"domain": [1, 2.8], "nice": false, "zero": false},
 "axis": {"title": "Asset Turnover Ratio (Log10)", "values": [1, 1.2, 1.4, 1.6, 1.8, 2, 2.2, 2.4, 2.6, 2.8], "offset": -369, "grid": true, "gridColor": "#D9D9D9", "gridWidth": 1.5, "domainColor": "#BFBFBF", "domainWidth": 2.5, "ticks": false, "labelPadding": 21, "labelFontSize": 20, "labelColor": "#595959", "labelFlush": false, "labelOverlap": false, "labelExpr": "datum.value + ''", "titleFontSize": 22, "titleFontWeight": "normal", "titleColor": "#595959", "titleY": 399, "titleBaseline": "alphabetic"}},
"y": {"field": "y", "type": "quantitative",
 "scale": {"domain": [-1, 2], "nice": false, "zero": false},
 "axis": {"title": "profit margin (Log10)", "values": [-1, -0.5, 0, 0.5, 1, 1.5, 2], "grid": true, "gridColor": "#D9D9D9", "gridWidth": 1.5, "domainColor": "#BFBFBF", "domainWidth": 2, "ticks": false, "labelPadding": 23, "labelFontSize": 20, "labelColor": "#595959", "labelOverlap": false, "labelExpr": "datum.value + ''", "titleFontSize": 22, "titleFontWeight": "normal", "titleColor": "#595959", "titleX": -82, "titleBaseline": "middle"}}
}
},
{
"data": {"name": "trend"},
"mark": {"type": "line", "color": "#FF0000", "strokeWidth": 6},
"encoding": {"x": {"field": "x", "type": "quantitative"}, "y": {"field": "y", "type": "quantitative"}}
},
{
"data": {"name": "eq"},
"mark": {"type": "text", "align": "center", "baseline": "alphabetic", "fontSize": 21, "color": "#595959", "font": "Lato"},
"encoding": {"x": {"field": "x", "type": "quantitative"}, "y": {"field": "y", "type": "quantitative"}, "text": {"field": "label", "type": "nominal"}}
}
]
}
